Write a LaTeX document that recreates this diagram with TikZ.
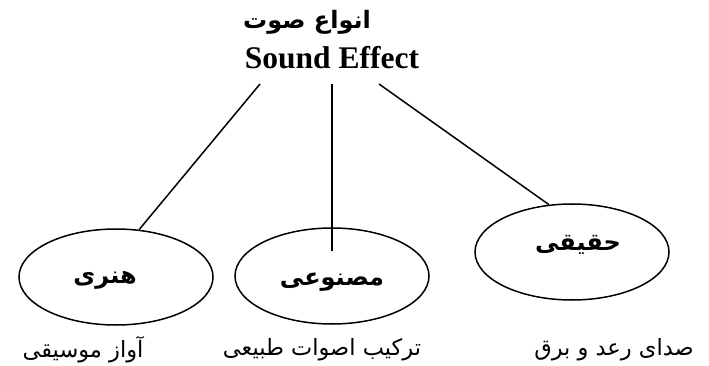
\documentclass[tikz,border=0pt]{standalone}
\usepackage{fontspec}
\usepackage{tikz}
\usetikzlibrary{shapes.geometric}
\setmainfont{Liberation Serif}
\newfontfamily\arabicfont[Script=Arabic]{DejaVu Sans}
\TeXXeTstate=1

\begin{document}
\begin{tikzpicture}[
  x=1pt, y=-1pt,
  kind/.style={ellipse,draw,line width=1.5pt,minimum width=194pt,minimum height=96pt,inner sep=0pt},
  klabel/.style={font=\arabicfont\bfseries\fontsize{24}{28}\selectfont},
  example/.style={font=\arabicfont\fontsize{22.5}{28}\selectfont},
  link/.style={line width=1.5pt}
  ]
\useasboundingbox (0,0) rectangle (709,366);
\node[font=\arabicfont\bfseries\fontsize{24}{28}\selectfont] (fa) at (307,22) {\beginR انواع صوت\endR};   % persian title
\node[font=\bfseries\fontsize{31.5}{34}\selectfont] (en) at (332,58) {Sound Effect};                        % english title
\coordinate (tl) at (260,84);
\coordinate (tm) at (332,84);
\coordinate (tr) at (379,84);
\node[kind] (honari) at (116,277){};   % artistic
\node[kind] (masnui) at (332,276){};   % artificial
\node[kind] (haghighi) at (572,252){}; % real
\node[klabel] (lhonari) at (105,280) {\beginR هنری\endR};
\node[klabel] (lmasnui) at (332,282) {\beginR مصنوعی\endR};
\node[klabel] (lhaghighi) at (578,245) {\beginR حقیقی\endR};
\node[example] (ehonari) at (83,350) {\beginR آواز موسیقی\endR};
\node[example] (emasnui) at (322,350) {\beginR ترکیب اصوات طبیعی\endR};
\node[example] (ehaghighi) at (614,350) {\beginR صدای رعد و برق\endR};
\draw[link] (tl) -- (honari.64);
\draw[link,shorten >=-24pt] (tm) -- (masnui.north);
\draw[link] (tr) -- (haghighi.116);
\end{tikzpicture}
\end{document}
